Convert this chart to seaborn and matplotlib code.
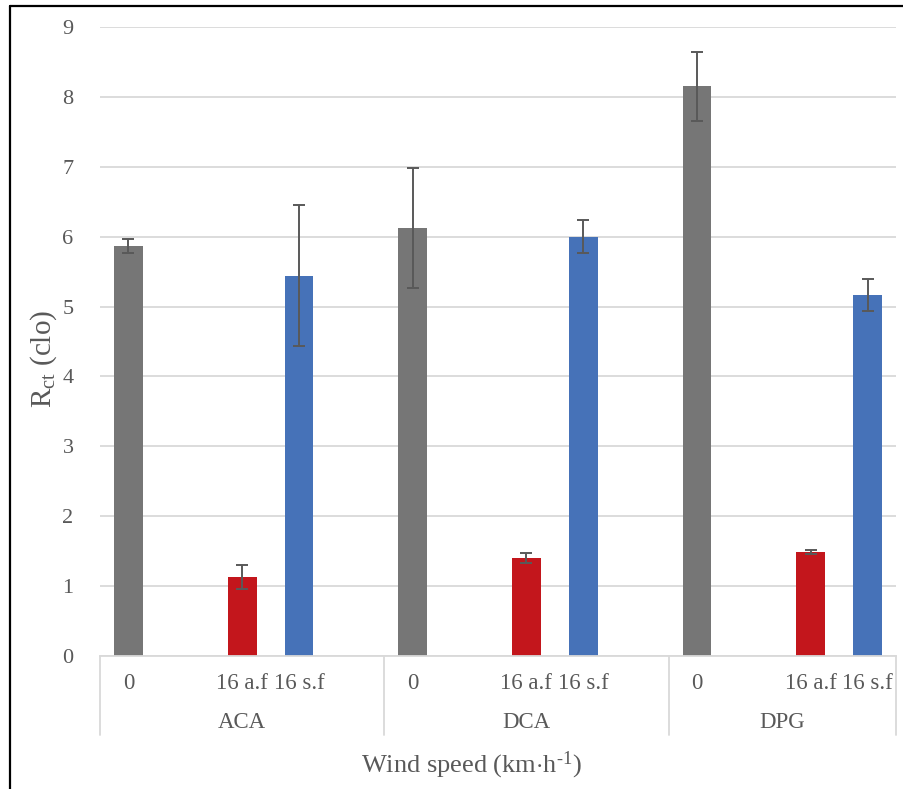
import matplotlib
matplotlib.use("Agg")
import matplotlib.pyplot as plt
from matplotlib.lines import Line2D
import matplotlib.transforms as mtransforms
import seaborn as sns
import pandas as pd
import numpy as np

# Garment groups and wind-speed conditions
groups = ["ACA", "DCA", "DPG"]
conditions = ["0", "16 a.f", "16 s.f"]

# Thermal insulation Rct (clo) and error bar half-lengths, per group in condition order
rct_aca = [5.86, 1.13, 5.44]
rct_dca = [6.12, 1.40, 6.00]
rct_dpg = [8.15, 1.49, 5.17]
err_aca = [0.10, 0.17, 1.01]
err_dca = [0.86, 0.07, 0.24]
err_dpg = [0.49, 0.03, 0.23]

series_colors = {"0": "#767676", "16 a.f": "#C3161C", "16 s.f": "#4672B8"}
y_ticks = [0, 1, 2, 3, 4, 5, 6, 7, 8, 9]

# Category axis: five slots per group (0, gap, 16 a.f, 16 s.f, gap); last group ends after 16 s.f
slot_kinds = ["0", None, "16 a.f", "16 s.f", None]
order = []
for g in groups:
    for i, k in enumerate(slot_kinds):
        order.append(f"{g}|{k if k else 'gap' + str(i)}")
order = order[:-1]

rows = []
for g, vals, errs in zip(groups, [rct_aca, rct_dca, rct_dpg], [err_aca, err_dca, err_dpg]):
    for c, v, e in zip(conditions, vals, errs):
        rows.append({"slot": f"{g}|{c}", "group": g, "cond": c, "rct": v, "err": e})
df = pd.DataFrame(rows)

sns.set_theme(style="white")
plt.rcParams["font.family"] = ["Liberation Serif", "DejaVu Serif"]
plt.rcParams["mathtext.fontset"] = "custom"
plt.rcParams["mathtext.rm"] = "Liberation Serif"
plt.rcParams["mathtext.it"] = "Liberation Serif:italic"

text_color = "#595959"
fig = plt.figure(figsize=(9.04, 7.89), dpi=100)
ax = fig.add_axes([100 / 904, 133 / 789, 796 / 904, 629 / 789])

sns.barplot(data=df, x="slot", y="rct", hue="cond", order=order,
            hue_order=conditions, palette=series_colors, dodge=False,
            width=0.51, errorbar=None, legend=False, saturation=1,
            linewidth=0, ax=ax)

xpos = [order.index(s) for s in df["slot"]]
ax.errorbar(xpos, df["rct"], yerr=df["err"], fmt="none", ecolor="#595959",
            elinewidth=1.4, capsize=4, capthick=1.4, zorder=5)

ax.set_xlim(-0.5, len(order) - 0.5)
ax.set_ylim(0, 9)
ax.set_yticks(y_ticks)
ax.set_yticklabels([str(t) for t in y_ticks], fontsize=16, color=text_color)
ax.tick_params(axis="y", length=0, pad=19)
ax.set_xticks([])
ax.set_xlabel("")
ax.yaxis.grid(True, color="#D9D9D9", linewidth=1.3)
ax.set_axisbelow(True)
for s in ["top", "right", "left"]:
    ax.spines[s].set_visible(False)
ax.spines["bottom"].set_color("#D9D9D9")
ax.spines["bottom"].set_linewidth(1.3)

ax.set_ylabel(r"R$_{\mathrm{ct}}$ (clo)", fontsize=21, color=text_color)
ax.yaxis.set_label_coords(-0.052, 0.472)

# Multi-level category labels
trans = mtransforms.blended_transform_factory(ax.transData, ax.transAxes)
for i, s in enumerate(order):
    g, k = s.split("|")
    if not k.startswith("gap"):
        ax.text(i, -0.043, k, transform=trans, ha="center", va="center",
                fontsize=16.5, color=text_color)
group_bounds = [-0.5, 4.5, 9.5, len(order) - 0.5]
for gi, g in enumerate(groups):
    center = (group_bounds[gi] + group_bounds[gi + 1]) / 2
    ax.text(center, -0.1065, g, transform=trans, ha="center", va="center",
            fontsize=16.5, color=text_color)
for b in group_bounds:
    ax.add_line(Line2D([b, b], [0, -0.1256], transform=trans, color="#D9D9D9",
                       linewidth=1.3, clip_on=False))

ax.text(0.466, -0.174, r"Wind speed (km$\cdot$h$^{\text{-1}}$)", transform=ax.transAxes,
        ha="center", va="center", fontsize=19, color=text_color)

# Frame lines along the top and left edge of the figure
fig.add_artist(Line2D([9.5 / 904, 1], [1 - 5.5 / 789] * 2, color="black", linewidth=1.6))
fig.add_artist(Line2D([9.5 / 904] * 2, [0, 1 - 5.5 / 789], color="black", linewidth=1.6))

fig.savefig("out.png", dpi=100)
